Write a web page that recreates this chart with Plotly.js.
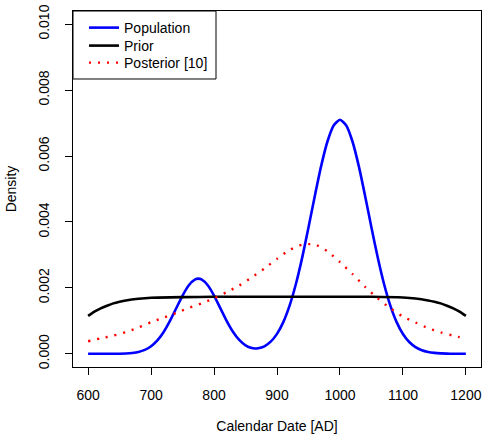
<!DOCTYPE html>
<html>
<head>
<meta charset="utf-8">
<script src="https://cdn.plot.ly/plotly-3.0.1.min.js"></script>
<style>html,body{margin:0;padding:0;background:#fff}#chart{width:483px;height:436px}</style>
</head>
<body>
<div id="chart"></div>
<script>
// Population density (blue), read every 10 years
const popDates = [600,610,620,630,640,650,660,670,680,690,700,710,720,730,740,750,760,770,775,780,790,800,810,820,830,840,850,860,865,870,880,890,900,910,920,930,940,950,960,970,980,990,1000,1010,1020,1030,1040,1050,1060,1070,1080,1090,1100,1110,1120,1130,1140,1150,1160,1170,1180,1190,1200];
const popValues = [0,0,0.0000001,0.0000004,0.0000013,0.0000039,0.0000103,0.0000253,0.0000573,0.000119,0.00023,0.000407,0.000663,0.000998,0.001383,0.001767,0.00208,0.002257,0.00228,0.002257,0.00208,0.001767,0.001384,0.001000,0.000669,0.00042,0.000257,0.000175,0.000163,0.000167,0.000228,0.000368,0.000605,0.000962,0.001462,0.002117,0.002919,0.00383,0.004783,0.005685,0.006433,0.006927,0.0071,0.006927,0.006433,0.005685,0.004783,0.00383,0.002919,0.002117,0.001462,0.000961,0.000601,0.000358,0.000203,0.000109,0.000056,0.0000274,0.0000128,0.0000057,0.0000024,0.000001,0];

// Prior density (black)
const priorDates = [600,610,620,630,640,650,660,680,700,750,800,850,900,950,1000,1050,1100,1120,1140,1150,1160,1170,1180,1190,1200];
const priorValues = [0.00115,0.00128,0.00138,0.00146,0.00153,0.00158,0.00162,0.00167,0.0017,0.00172,0.00173,0.00173,0.00173,0.00173,0.00173,0.00173,0.00171,0.00168,0.00162,0.00158,0.00153,0.00146,0.00138,0.00128,0.00115];

// Posterior density (red dotted)
const postDates = [600,620,640,660,680,700,720,740,760,780,800,820,840,860,880,900,920,940,960,980,1000,1020,1040,1060,1080,1100,1120,1140,1160,1180,1200];
const postValues = [0.00038,0.00047,0.00055,0.00066,0.0008,0.00096,0.0011,0.00124,0.00139,0.00153,0.00168,0.00187,0.00207,0.00232,0.00259,0.00288,0.00315,0.00331,0.00332,0.00311,0.00278,0.00242,0.00203,0.00168,0.00138,0.00113,0.00095,0.00078,0.00065,0.00055,0.00046];

const xTicks = [600,700,800,900,1000,1100,1200];
const yTicks = [0,0.002,0.004,0.006,0.008,0.010];
const yTickLabels = ["0.000","0.002","0.004","0.006","0.008","0.010"];

const seriesNames = ["Population","Prior","Posterior [10]"];

const font = {family: "Liberation Sans, Arial, Helvetica, sans-serif", size: 14, color: "#000"};

const traces = [
  {x: popDates, y: popValues, name: seriesNames[0], legend: "legend", mode: "lines", line: {color: "#0000ff", width: 2.6, shape: "spline", smoothing: 0.6}},
  {x: priorDates, y: priorValues, name: seriesNames[1], legend: "legend2", mode: "lines", line: {color: "#000000", width: 2.6, shape: "spline", smoothing: 0.6}},
  {x: postDates, y: postValues, name: seriesNames[2], legend: "legend3", mode: "lines", line: {color: "#ff0000", width: 2.4, dash: "2px,7px", shape: "spline", smoothing: 0.6}}
];

function legendAt(yPaper) {
  return {x: 0.027, y: yPaper, xanchor: "left", yanchor: "middle", bgcolor: "rgba(0,0,0,0)", borderwidth: 0, font: font};
}

const layout = {
  width: 483, height: 436,
  margin: {l: 73, r: 2, t: 11, b: 69},
  paper_bgcolor: "#fff", plot_bgcolor: "#fff",
  font: font,
  showlegend: true,
  legend: legendAt(0.9522),
  legend2: legendAt(0.9017),
  legend3: legendAt(0.8539),
  xaxis: {
    range: [576, 1224], tickvals: xTicks, ticktext: xTicks.map(String),
    ticks: "outside", ticklen: 7, tickcolor: "#000", tickwidth: 1,
    showgrid: false, zeroline: false, showline: true, linecolor: "#000", linewidth: 1, mirror: true,
    ticklabelstandoff: 8,
    title: {text: "Calendar Date [AD]", font: font, standoff: 19},
    automargin: false
  },
  yaxis: {
    range: [-0.0004, 0.0104], tickvals: yTicks, ticktext: yTickLabels, tickangle: -90,
    ticks: "outside", ticklen: 7, tickcolor: "#000", tickwidth: 1,
    showgrid: false, zeroline: false, showline: true, linecolor: "#000", linewidth: 1, mirror: true,
    ticklabelstandoff: 10,
    title: {text: "Density", font: font, standoff: 16},
    automargin: false
  },
  shapes: [
    {type: "rect", xref: "paper", yref: "paper", x0: 0, x1: 0.3505, y0: 0.809, y1: 1, line: {color: "#000", width: 1}, fillcolor: "rgba(0,0,0,0)"}
  ]
};

Plotly.newPlot("chart", traces, layout, {displayModeBar: false, staticPlot: true});
</script>
</body>
</html>
